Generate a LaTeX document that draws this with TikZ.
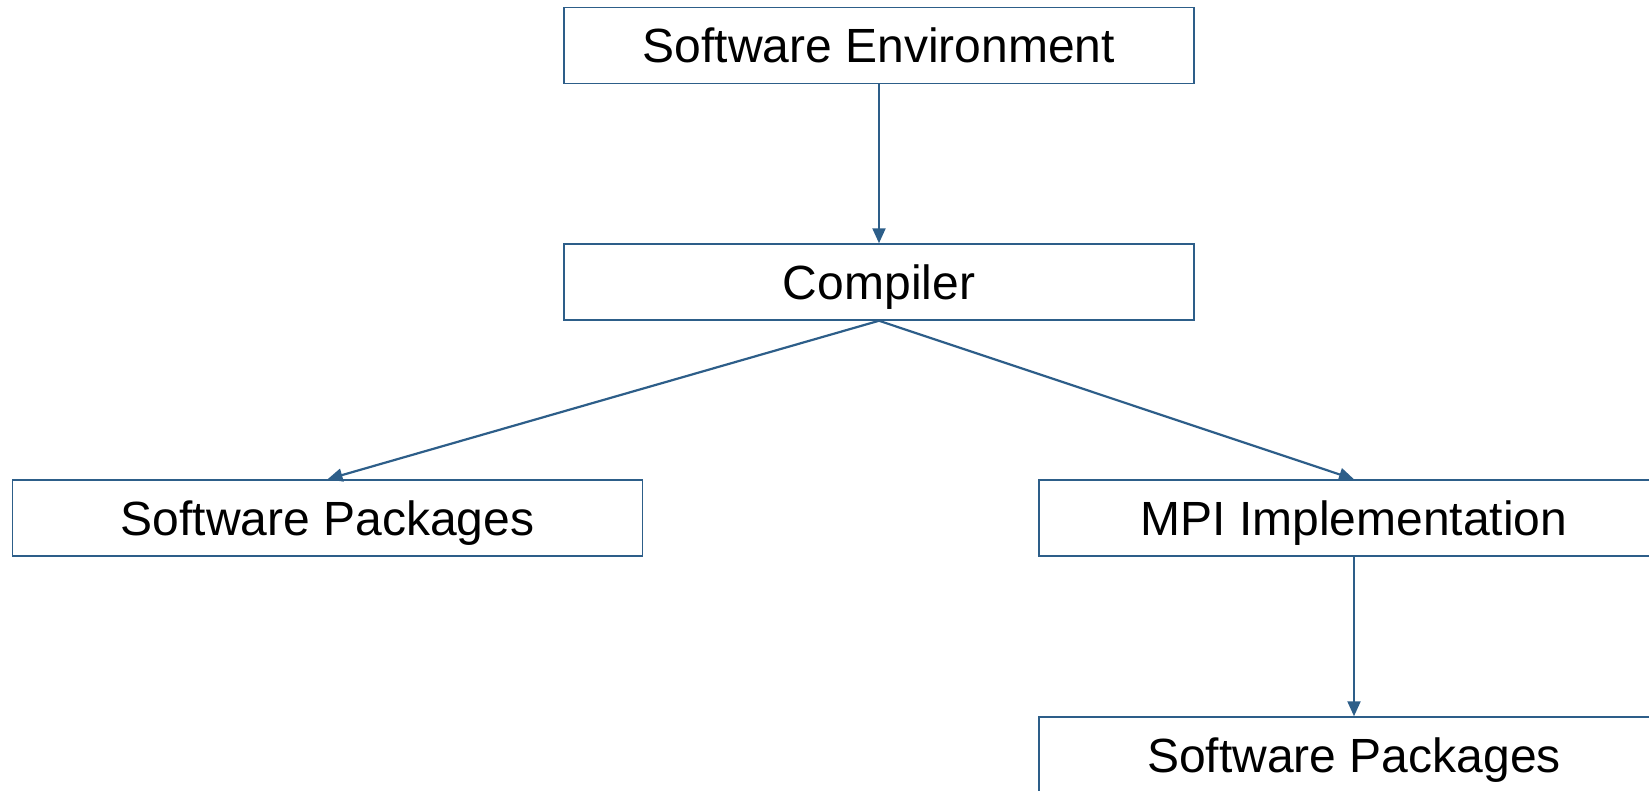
\documentclass[tikz,border=0pt]{standalone}
\usepackage{fontspec}
\setmainfont{Liberation Sans}
\usetikzlibrary{arrows.meta,positioning}
\definecolor{envblue}{RGB}{45,94,137}
\tikzset{
  blk/.style={draw=envblue, line width=1.5pt, fill=white, minimum width=630pt,
              minimum height=76pt, inner sep=0pt, text depth=0pt,
              font=\fontsize{48}{56}\selectfont},
  depar/.style={-{Triangle[length=15pt, width=13pt]}, envblue, line width=2.2pt},
}
\begin{document}
\begin{tikzpicture}[x=1pt, y=-1pt]
    \useasboundingbox (0,0) rectangle (1649,790);
    \clip (0,0) rectangle (1649,790);
    \node[blk] (env) at (879,45.5) {Software Environment};
    \node[blk] (comp) at (879,282) {Compiler};
    \node[blk] (pkgl) at (327.5,518) {Software Packages};
    \node[blk] (mpi) at (1354,518) {MPI Implementation};
    \node[blk] (pkgr) at (1354,755) {Software Packages};
    \draw[depar] (env.south) -- (comp.north);
    \draw[depar] (comp.south) -- (pkgl.north);
    \draw[depar] (comp.south) -- (mpi.north);
    \draw[depar] (mpi.south) -- (pkgr.north);
  \end{tikzpicture}
\end{document}
